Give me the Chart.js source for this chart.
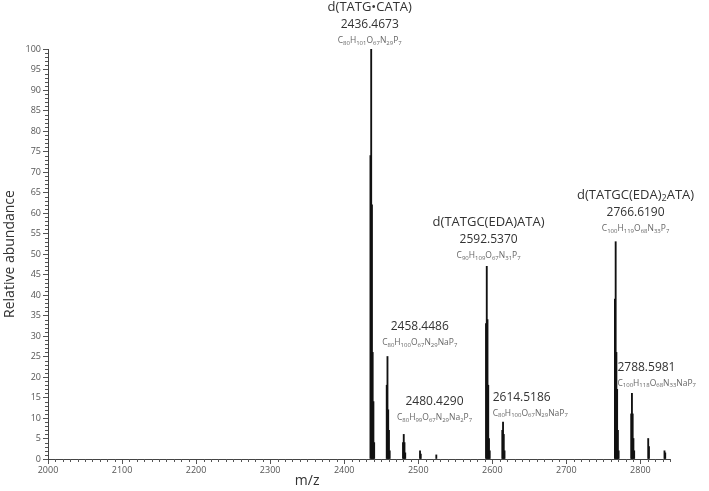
<!DOCTYPE html>
<html>
<head>
<meta charset="utf-8">
<script src="https://cdn.jsdelivr.net/npm/chart.js@4.4.0/dist/chart.umd.min.js"></script>
<style>
  body { margin: 0; background: #fff; }
  canvas { display: block; }
</style>
</head>
<body>
<canvas id="chart" width="709" height="491"></canvas>
<script>
// Mass spectrum sticks (m/z, relative abundance)
const peakMz = [
  2435.46, 2436.47, 2437.47, 2438.47, 2439.47, 2440.48,
  2457.45, 2458.45, 2459.45, 2460.45, 2461.45,
  2479.43, 2480.43, 2481.43, 2482.43,
  2502.41, 2503.41, 2524.40,
  2591.53, 2592.54, 2593.54, 2594.54, 2595.54, 2596.54,
  2613.52, 2614.52, 2615.52, 2616.52,
  2765.62, 2766.62, 2767.62, 2768.62, 2769.62, 2770.62,
  2787.60, 2788.60, 2789.60, 2790.60, 2791.60,
  2810.58, 2811.58,
  2832.56, 2833.56,
];
const peakAbundance = [
  74, 100, 62, 26, 14, 4,
  18, 25, 12, 7, 2,
  4, 6, 4, 1.5,
  2, 1.2, 1,
  33, 47, 34, 18, 5, 2,
  7, 9, 6, 2,
  39, 53, 26, 17, 7, 2,
  11, 16, 11, 5, 2,
  5, 3,
  2, 1.5,
];

const xTickLabels = [2000, 2100, 2200, 2300, 2400, 2500, 2600, 2700, 2800];
const yTickLabels = [0, 5, 10, 15, 20, 25, 30, 35, 40, 45, 50, 55, 60, 65, 70, 75, 80, 85, 90, 95, 100];

// Peak annotations: name (optional), mass, formula; "_" marks a subscript in names
const noteNames = ['d(TATG•CATA)', '', '', 'd(TATGC(EDA)ATA)', '', 'd(TATGC(EDA)_2ATA)', ''];
const noteMasses = ['2436.4673', '2458.4486', '2480.4290', '2592.5370', '2614.5186', '2766.6190', '2788.5981'];
const noteFormulas = ['C80H101O67N29P7', 'C80H100O67N29NaP7', 'C80H99O67N29Na2P7', 'C90H109O67N31P7',
  'C80H100O67N29NaP7', 'C100H119O68N33P7', 'C100H118O68N33NaP7'];
const noteMz = [2434.5, 2502, 2522, 2595, 2600.5, 2793.5, 2769];
const noteLevel = [105.9, 32.2, 13.9, 53.4, 15.1, 60.0, 22.4];
const noteAlign = ['center', 'center', 'center', 'center', 'left', 'center', 'left'];

const FONT = '"Open Sans", "Noto Sans", sans-serif';
const peaks = peakMz.map((m, i) => ({ x: m, y: peakAbundance[i] }));

function nameParts(s) {
  const parts = [];
  const re = /_(\d+)|([^_]+)/g;
  let m;
  while ((m = re.exec(s))) {
    if (m[1]) parts.push({ t: m[1], sub: true });
    else parts.push({ t: m[2], sub: false });
  }
  return parts;
}

function formulaParts(s) {
  const parts = [];
  const re = /([A-Z][a-z]?)(\d*)/g;
  let m;
  while ((m = re.exec(s))) {
    parts.push({ t: m[1], sub: false });
    if (m[2]) parts.push({ t: m[2], sub: true });
  }
  return parts;
}

function drawRich(ctx, parts, x, y, size, subSize, color, align) {
  const big = `${size}px ${FONT}`;
  const small = `${subSize}px ${FONT}`;
  let w = 0;
  parts.forEach((p) => {
    ctx.font = p.sub ? small : big;
    w += ctx.measureText(p.t).width;
  });
  let cx = align === 'left' ? x : x - w / 2;
  ctx.fillStyle = color;
  ctx.textAlign = 'left';
  ctx.textBaseline = 'middle';
  parts.forEach((p) => {
    ctx.font = p.sub ? small : big;
    ctx.fillText(p.t, cx, p.sub ? y + size * 0.3 : y);
    cx += ctx.measureText(p.t).width;
  });
}

const annotations = {
  id: 'annotations',
  afterDraw(chart) {
    const { ctx, scales } = chart;
    const xs = scales.x;
    const ys = scales.y;
    ctx.save();

    // minor ticks
    ctx.strokeStyle = '#555';
    ctx.lineWidth = 1;
    ctx.beginPath();
    for (let v = 0; v <= 100; v++) {
      if (v % 5 === 0) continue;
      const py = Math.round(ys.getPixelForValue(v)) + 0.5;
      ctx.moveTo(xs.left - 3, py);
      ctx.lineTo(xs.left, py);
    }
    for (let v = 2000; v <= 2840; v += 10) {
      if (v % 100 === 0) continue;
      const px = Math.round(xs.getPixelForValue(v)) + 0.5;
      ctx.moveTo(px, ys.bottom);
      ctx.lineTo(px, ys.bottom + 3);
    }
    ctx.stroke();

    // peak labels
    noteMasses.forEach((mass, i) => {
      const x = xs.getPixelForValue(noteMz[i]);
      const y = ys.getPixelForValue(noteLevel[i]);
      if (noteNames[i]) {
        drawRich(ctx, nameParts(noteNames[i]), x, y - 18, 13, 9, '#333', noteAlign[i]);
      }
      drawRich(ctx, [{ t: mass, sub: false }], x, y, 12, 9, '#333', noteAlign[i]);
      drawRich(ctx, formulaParts(noteFormulas[i]), x, y + 16, 8.5, 6, '#666', noteAlign[i]);
    });

    // x axis title
    ctx.font = `14px ${FONT}`;
    ctx.fillStyle = '#333';
    ctx.textAlign = 'center';
    ctx.textBaseline = 'middle';
    ctx.fillText('m/z', xs.getPixelForValue(2350), 481);
    ctx.restore();
  },
};

new Chart(document.getElementById('chart'), {
  type: 'bar',
  data: {
    datasets: [
      {
        data: peaks,
        backgroundColor: '#111',
        barThickness: 1.2,
        borderWidth: 0,
      },
    ],
  },
  options: {
    responsive: false,
    animation: false,
    layout: { padding: { top: 49, right: 39, left: 0, bottom: 0 } },
    plugins: { legend: { display: false }, tooltip: { enabled: false } },
    scales: {
      x: {
        type: 'linear',
        min: 2000,
        max: 2840,
        offset: false,
        afterBuildTicks: (s) => {
          s.ticks = xTickLabels.map((v) => ({ value: v }));
        },
        afterFit: (s) => {
          s.height = 32;
        },
        ticks: {
          font: { family: FONT, size: 9 },
          color: '#555',
          padding: 1,
          maxRotation: 0,
          callback: (v) => String(v),
        },
        grid: { drawOnChartArea: false, offset: false, tickLength: 5, color: '#555' },
        border: { color: '#444' },
      },
      y: {
        min: 0,
        max: 100,
        afterBuildTicks: (s) => {
          s.ticks = yTickLabels.map((v) => ({ value: v }));
        },
        afterFit: (s) => {
          s.width = 48;
        },
        ticks: { font: { family: FONT, size: 9 }, color: '#555', padding: 2 },
        grid: { drawOnChartArea: false, tickLength: 5, color: '#555' },
        border: { color: '#444' },
        title: {
          display: true,
          text: 'Relative abundance',
          font: { family: FONT, size: 14 },
          color: '#333',
          padding: { top: 2, bottom: 0 },
        },
      },
    },
  },
  plugins: [annotations],
});
</script>
</body>
</html>
